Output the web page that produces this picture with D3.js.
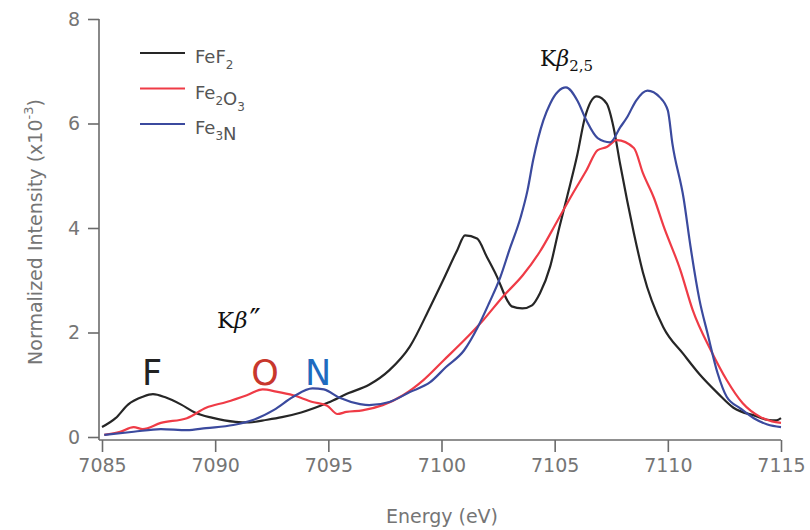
<!DOCTYPE html>
<html>
<head>
<meta charset="utf-8">
<script src="https://cdn.jsdelivr.net/npm/d3@7"></script>
<style>
  body { margin: 0; background: #fff; }
  text { font-family: "DejaVu Sans", "Noto Sans", sans-serif; }
</style>
</head>
<body>
<script>
// chart size
var width = 810,
    height = 530;

// x ticks (eV) and y ticks (x10^-3)
var xTicks = [7085, 7090, 7095, 7100, 7105, 7110, 7115];
var yTicks = [0, 2, 4, 6, 8];

// FeF2 spectrum, [energy, intensity]
var feF2 = [
  [7085.0, 0.19], [7085.6, 0.36], [7086.15, 0.62], [7086.8, 0.77], [7087.25, 0.82],
  [7087.8, 0.76], [7088.5, 0.62], [7089.1, 0.47], [7089.85, 0.37], [7090.9, 0.29],
  [7091.5, 0.28], [7092.3, 0.33], [7092.95, 0.38], [7093.8, 0.47], [7095.0, 0.66],
  [7095.9, 0.84], [7096.8, 1.0], [7097.7, 1.28], [7098.6, 1.73], [7099.5, 2.49],
  [7100.07, 3.0], [7100.7, 3.58], [7101.04, 3.86], [7101.57, 3.8], [7102.0, 3.45],
  [7102.45, 3.07], [7102.9, 2.62], [7103.1, 2.5], [7103.57, 2.46], [7104.0, 2.52],
  [7104.35, 2.75], [7104.8, 3.26], [7105.2, 4.0], [7105.55, 4.6], [7106.0, 5.4],
  [7106.34, 6.12], [7106.86, 6.52], [7107.3, 6.38], [7107.6, 5.93], [7107.89, 5.23],
  [7108.2, 4.53], [7108.5, 3.9], [7108.9, 3.15], [7109.8, 2.1], [7110.7, 1.58],
  [7111.4, 1.2], [7112.2, 0.84], [7112.9, 0.56], [7113.9, 0.4], [7114.4, 0.33],
  [7114.8, 0.32], [7115.0, 0.36]
];

// Fe2O3 spectrum
var fe2O3 = [
  [7085.1, 0.04], [7085.8, 0.1], [7086.4, 0.19], [7086.8, 0.15], [7087.6, 0.27],
  [7088.75, 0.36], [7089.6, 0.56], [7090.5, 0.67], [7091.4, 0.8], [7092.1, 0.91],
  [7092.7, 0.87], [7093.45, 0.8], [7094.3, 0.67], [7094.95, 0.6], [7095.4, 0.44],
  [7095.8, 0.48], [7096.5, 0.51], [7097.4, 0.61], [7098.3, 0.8], [7099.2, 1.09],
  [7100.1, 1.47], [7101.0, 1.85], [7101.85, 2.24], [7102.7, 2.68], [7103.6, 3.1],
  [7104.35, 3.55], [7105.1, 4.12], [7105.8, 4.66], [7106.4, 5.1], [7106.9, 5.49],
  [7107.3, 5.55], [7107.75, 5.68], [7108.5, 5.53], [7108.9, 5.05], [7109.4, 4.56],
  [7109.8, 4.05], [7110.55, 3.2], [7111.1, 2.43], [7111.9, 1.66], [7112.6, 1.09],
  [7113.3, 0.65], [7114.1, 0.38], [7114.6, 0.3], [7115.0, 0.27]
];

// Fe3N spectrum
var fe3N = [
  [7085.1, 0.04], [7086.4, 0.1], [7087.6, 0.15], [7088.75, 0.13], [7089.6, 0.17],
  [7090.8, 0.23], [7091.7, 0.33], [7092.6, 0.52], [7093.45, 0.77], [7094.3, 0.93],
  [7094.8, 0.91], [7095.5, 0.75], [7096.4, 0.63], [7096.8, 0.61], [7097.7, 0.67],
  [7098.6, 0.86], [7099.5, 1.05], [7100.2, 1.34], [7101.0, 1.66], [7101.6, 2.1],
  [7102.1, 2.56], [7102.6, 3.06], [7103.0, 3.58], [7103.5, 4.21], [7103.8, 4.72],
  [7104.05, 5.3], [7104.5, 6.06], [7104.8, 6.38], [7105.5, 6.69], [7106.0, 6.44],
  [7106.4, 6.06], [7106.9, 5.72], [7107.45, 5.64], [7107.9, 5.93], [7108.2, 6.12],
  [7108.6, 6.44], [7109.1, 6.63], [7109.65, 6.5], [7110.0, 6.25], [7110.2, 5.62],
  [7110.7, 4.56], [7111.0, 3.65], [7111.4, 2.62], [7111.75, 1.99], [7112.2, 1.22],
  [7112.6, 0.77], [7113.2, 0.55], [7113.8, 0.36], [7114.4, 0.24], [7115.0, 0.19]
];

// legend names as [text, subscript] pieces
var seriesNames = [
  [['Fe', ''], ['F', '2']],
  [['Fe', '2'], ['O', '3']],
  [['Fe', '3'], ['N', '']]
];
var colors = ['#262626', '#ef3b46', '#3b4a9e'];
var allSeries = [feF2, fe2O3, fe3N];

var svg = d3.select('body')
    .append('svg')
    .attr('width', width)
    .attr('height', height);

// scales
var x = d3.scaleLinear().domain([7085, 7115]).range([102, 781]);
var y = d3.scaleLinear().domain([0, 8]).range([437, 19]);

// axes, Igor style with offset
var axisColor = '#6b6b6b';
var textColor = '#757575';

var xAxis = svg.append('g')
    .attr('transform', 'translate(0,440)')
    .call(d3.axisBottom(x).tickValues(xTicks).tickSize(12).tickPadding(7).tickFormat(d3.format('d')));

var yAxis = svg.append('g')
    .attr('transform', 'translate(99,0)')
    .call(d3.axisLeft(y).tickValues(yTicks).tickSize(11).tickPadding(8));

[xAxis, yAxis].forEach(function(a) {
    a.select('.domain').remove();
    a.selectAll('line').attr('stroke', axisColor).attr('stroke-width', 1.6);
    a.selectAll('text').attr('fill', textColor).style('font-size', '19px');
});

// axis lines
svg.append('line').attr('x1', 99).attr('x2', 99).attr('y1', 19).attr('y2', 440)
    .attr('stroke', axisColor).attr('stroke-width', 1.6);
svg.append('line').attr('x1', 99).attr('x2', 781).attr('y1', 440).attr('y2', 440)
    .attr('stroke', axisColor).attr('stroke-width', 1.6);

// axis titles
svg.append('text')
    .attr('x', 442).attr('y', 523)
    .attr('text-anchor', 'middle')
    .attr('fill', textColor)
    .style('font-size', '19px')
    .text('Energy (eV)');

var yTitle = svg.append('text')
    .attr('transform', 'translate(42,232) rotate(-90)')
    .attr('text-anchor', 'middle')
    .attr('fill', textColor)
    .style('font-size', '19px');
yTitle.append('tspan').text('Normalized Intensity (x10');
yTitle.append('tspan').attr('dy', -9).style('font-size', '13px').text('-3');
yTitle.append('tspan').attr('dy', 9).text(')');

// spectra
var line = d3.line()
    .x(function(d) { return x(d[0]); })
    .y(function(d) { return y(d[1]); })
    .curve(d3.curveMonotoneX);

svg.selectAll('path.spectrum')
    .data(allSeries)
    .enter().append('path')
    .attr('class', 'spectrum')
    .attr('fill', 'none')
    .attr('stroke', function(d, i) { return colors[i]; })
    .attr('stroke-width', 2.2)
    .attr('d', line);

// legend
var legend = svg.append('g');
seriesNames.forEach(function(parts, i) {
    var ly = 53 + i * 35.5;
    legend.append('line')
        .attr('x1', 140).attr('x2', 185)
        .attr('y1', ly).attr('y2', ly)
        .attr('stroke', colors[i]).attr('stroke-width', 2.2);
    var t = legend.append('text')
        .attr('x', 195).attr('y', ly + 10)
        .attr('fill', '#555')
        .style('font-size', '18px');
    parts.forEach(function(p) {
        t.append('tspan').attr('dy', 0).text(p[0]);
        if (p[1]) {
            t.append('tspan').attr('dy', 6).style('font-size', '12px').text(p[1]);
            t.append('tspan').attr('dy', -6).text('');
        }
    });
});

// annotations
svg.append('text')
    .attr('x', 540).attr('y', 66)
    .style('font-family', '"DejaVu Serif", "Liberation Serif", serif')
    .style('font-size', '22px')
    .attr('fill', '#111')
    .html('K<tspan font-style="italic">\u03B2</tspan><tspan dy="5" font-size="15px">2,5</tspan>');

svg.append('text')
    .attr('x', 217).attr('y', 328)
    .style('font-family', '"DejaVu Serif", "Liberation Serif", serif')
    .style('font-size', '23px')
    .attr('fill', '#111')
    .html('K<tspan font-style="italic">\u03B2</tspan><tspan dx="2" dy="2" font-size="30px">\u2033</tspan>');

var markers = [['F', 152, '#222'], ['O', 265, '#c8372d'], ['N', 318, '#1f6bbf']];
markers.forEach(function(m) {
    svg.append('text')
        .attr('x', m[1]).attr('y', 385)
        .attr('text-anchor', 'middle')
        .attr('fill', m[2])
        .style('font-size', '35px')
        .text(m[0]);
});
</script>
</body>
</html>
